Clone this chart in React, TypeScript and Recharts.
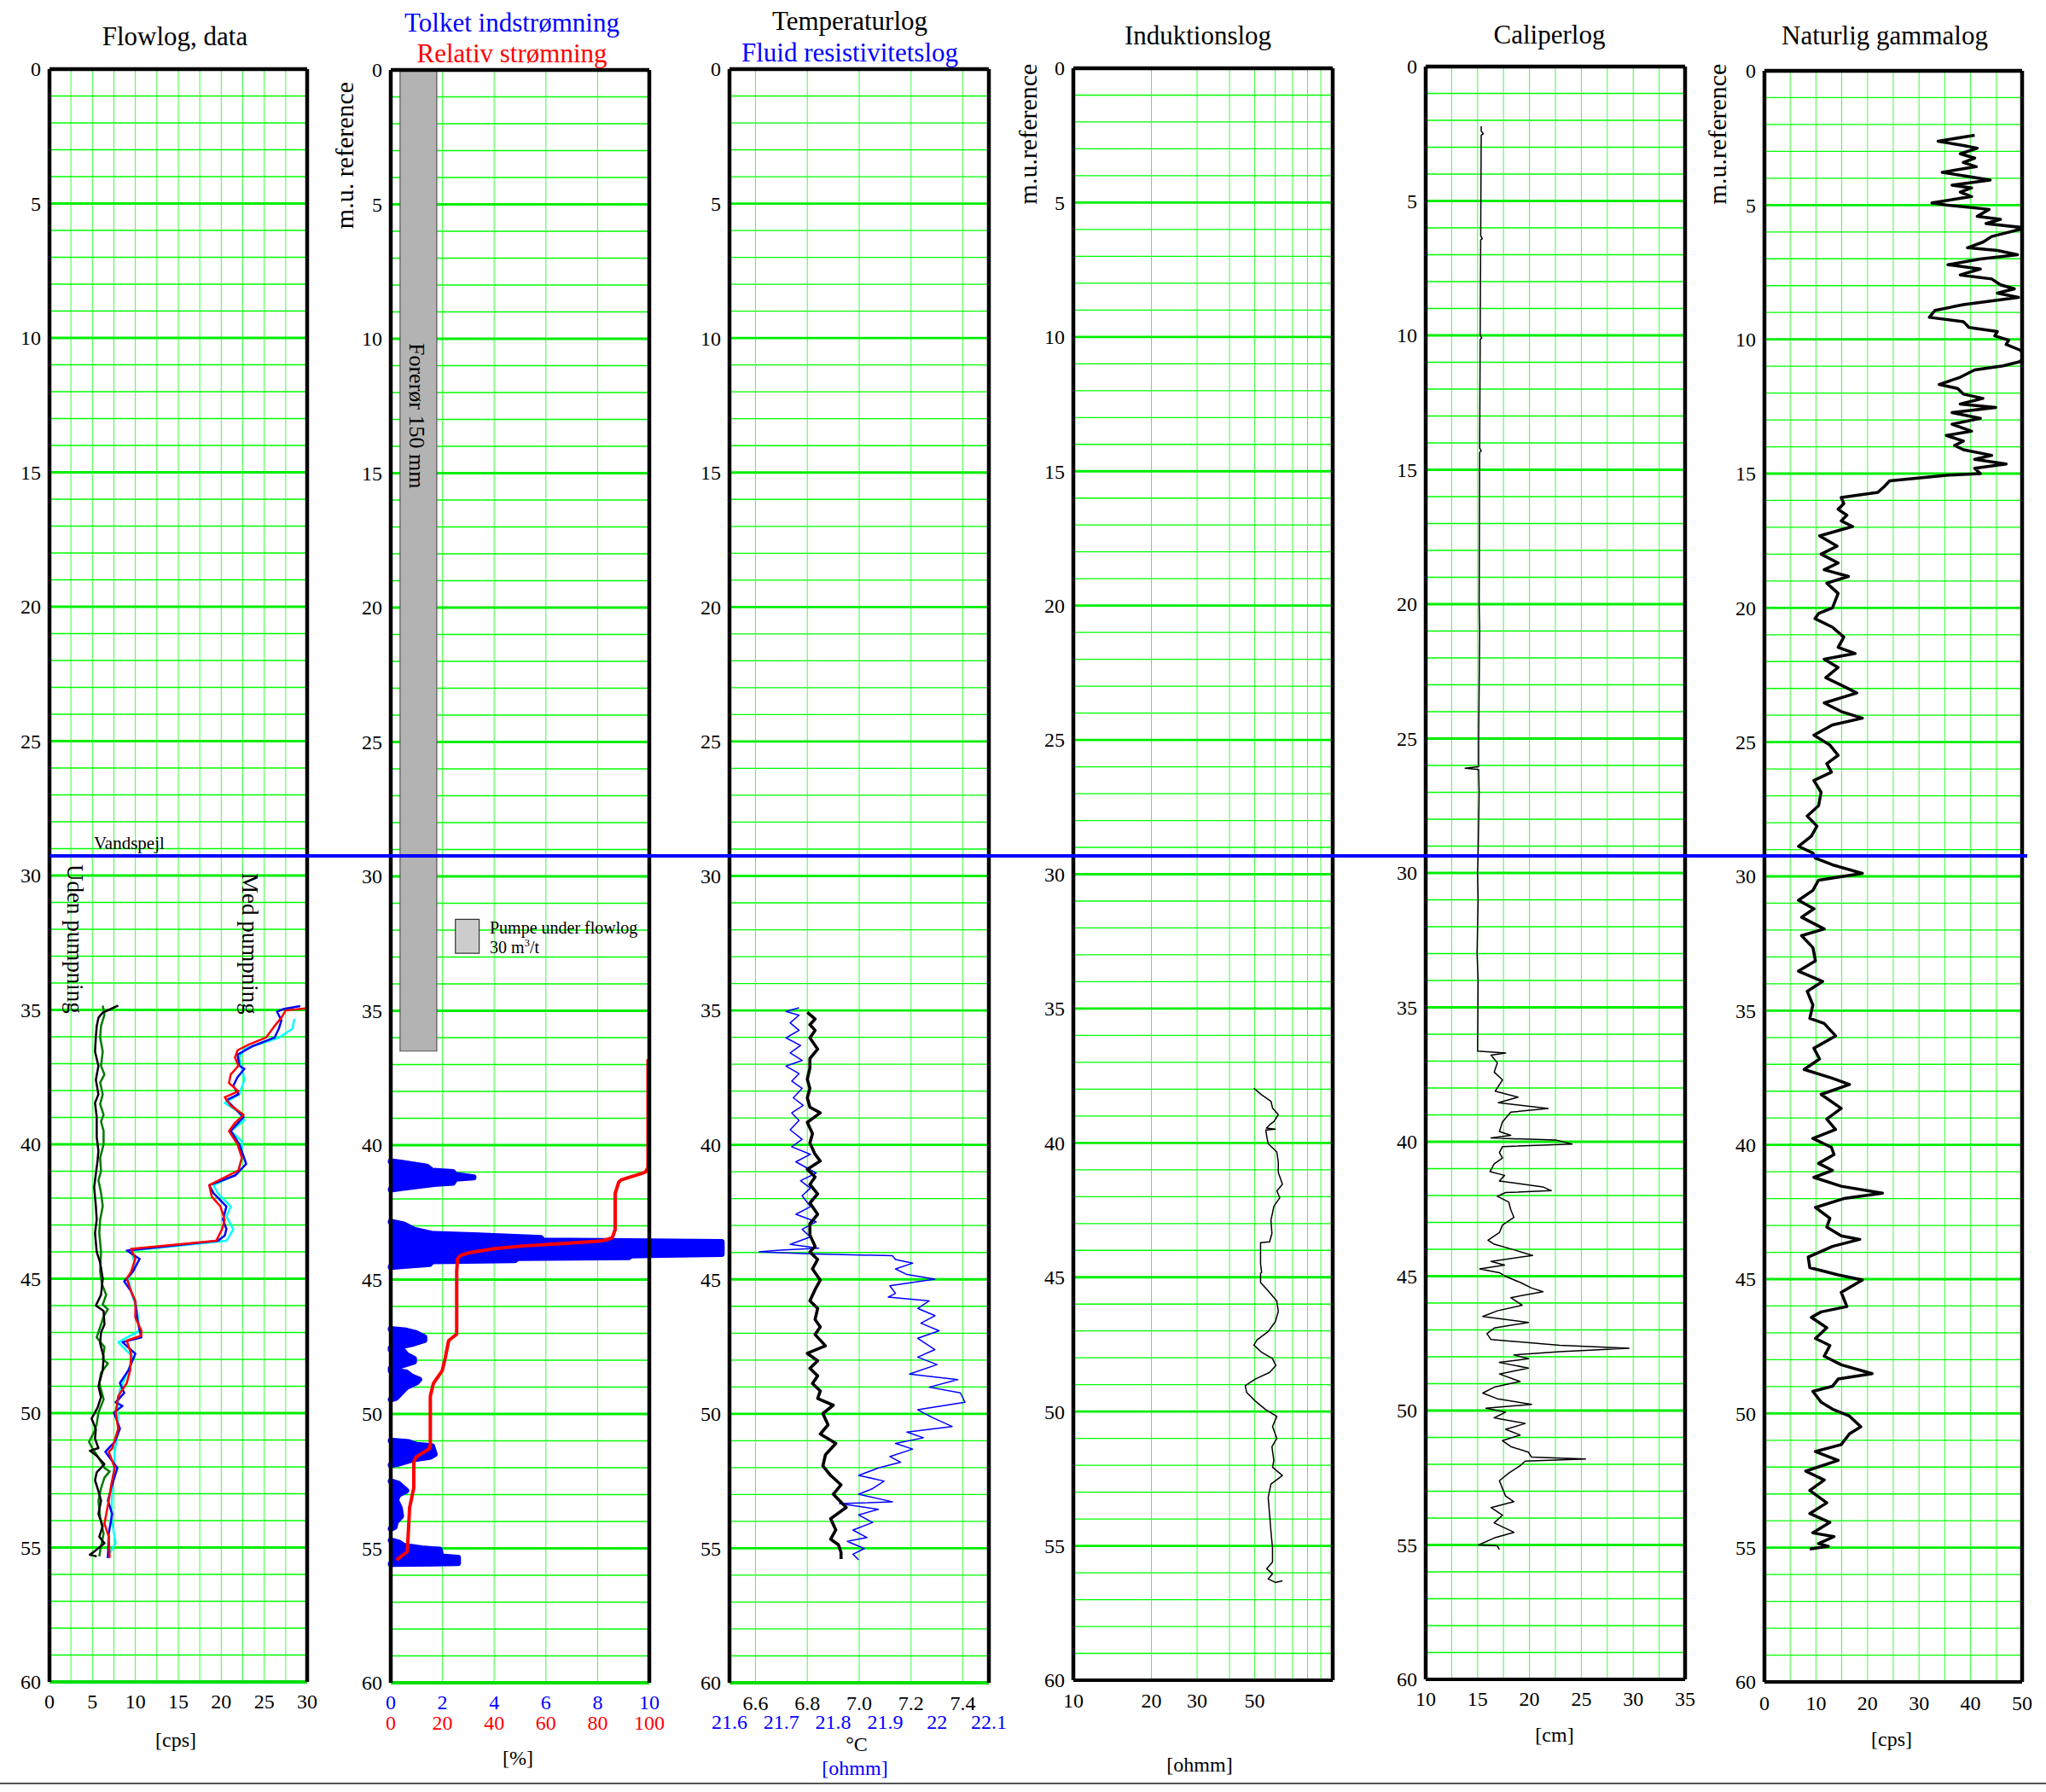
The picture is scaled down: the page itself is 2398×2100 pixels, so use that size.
import React from 'react';
import { ComposedChart, Line, Area, XAxis, YAxis, CartesianGrid, ReferenceLine, ReferenceArea } from 'recharts';

const PAGE_W = 2398;
const PAGE_H = 2100;
const SERIF = '"Liberation Serif", "Times New Roman", Times, serif';

type Pair = [number, number | null];

// ---------- depth axis ----------
const depthTicks = Array.from({ length: 61 }, (_, i) => i);
const depthMajor = [5, 10, 15, 20, 25, 30, 35, 40, 45, 50, 55];
const waterLevel = 29.27;

// ---------- Flowlog, data ----------
const flowTicks = [0, 2.5, 5, 7.5, 10, 12.5, 15, 17.5, 20, 22.5, 25, 27.5, 30];
const flowUdenBlack: Pair[] = [
  [34.84, 8.0], [35.0, 6.9], [35.1, 6.2], [35.29, 5.7], [35.6, 5.5], [36.0, 5.4], [36.55, 5.3], [37.08, 5.7],
  [37.6, 5.4], [38.14, 5.7], [38.46, 5.3], [38.98, 5.5], [39.4, 5.5], [39.73, 5.5], [40.24, 5.7], [40.6, 5.6],
  [41.1, 5.4], [41.6, 5.2], [42.3, 5.4], [42.8, 5.5], [43.3, 5.3], [44.0, 5.5], [44.4, 5.9], [45.0, 6.2],
  [45.6, 6.0], [46.0, 5.4], [46.2, 6.3], [46.7, 6.4], [47.0, 6.0], [47.4, 5.9], [47.9, 6.3], [48.4, 6.2],
  [49.0, 5.7], [49.4, 6.0], [49.8, 5.6], [50.2, 4.9], [50.6, 5.4], [50.95, 5.3], [51.3, 5.7], [51.4, 4.7],
  [51.56, 5.4], [51.9, 6.4], [52.2, 5.5], [52.5, 5.3], [52.9, 5.7], [53.26, 6.0], [53.75, 5.7], [54.2, 6.2],
  [54.6, 5.8], [54.84, 6.4], [55.1, 5.4], [55.27, 4.7], [55.33, 5.5],
];
const flowUdenGreen: Pair[] = [
  [34.84, 6.2], [35.18, 6.4], [35.6, 6.0], [36.03, 5.9], [36.55, 6.2], [37.08, 6.0], [37.4, 6.4], [37.7, 5.9],
  [38.14, 6.2], [38.5, 5.9], [38.9, 6.3], [39.15, 6.0], [39.5, 6.3], [40.0, 6.3], [40.5, 5.9], [41.0, 6.0],
  [41.34, 5.7], [41.8, 6.0], [42.3, 6.2], [42.8, 5.9], [43.3, 5.8], [44.0, 6.0], [44.74, 5.9], [45.2, 6.1],
  [45.6, 6.6], [45.96, 6.2], [46.14, 6.8], [46.4, 6.3], [46.7, 6.0], [47.18, 5.5], [47.54, 6.4], [48.0, 6.2],
  [48.15, 6.8], [48.5, 6.0], [48.88, 5.8], [49.49, 6.3], [49.98, 5.7], [50.4, 5.5], [50.7, 5.2], [51.07, 4.6],
  [51.31, 5.0], [51.7, 5.8], [52.04, 6.4], [52.17, 7.0], [52.4, 6.4], [52.8, 6.0], [53.26, 5.7], [53.87, 5.9],
  [54.2, 6.1], [54.48, 6.3], [54.96, 6.0], [55.33, 5.8],
];
const flowMedBlue: Pair[] = [
  [34.86, 29.2], [34.97, 27.2], [35.07, 26.5], [35.39, 27.0], [35.7, 26.7], [36.03, 26.2], [36.34, 23.7], [36.66, 21.9],
  [37.08, 22.1], [37.19, 22.7], [37.5, 21.9], [37.82, 21.4], [38.14, 22.0], [38.35, 20.6], [38.67, 21.6], [38.98, 22.6],
  [39.5, 21.1], [40.0, 22.1], [40.73, 22.9], [41.16, 21.6], [41.52, 18.6], [41.82, 19.1], [42.31, 20.6], [42.8, 20.2],
  [43.16, 20.6], [43.4, 20.4], [43.59, 19.6], [43.95, 9.0], [44.26, 10.5], [44.74, 9.7], [45.1, 8.7], [45.47, 9.5],
  [45.84, 10.0], [46.45, 10.2], [46.93, 10.5], [47.18, 10.7], [47.36, 8.5], [47.79, 10.0], [48.4, 9.2], [48.88, 8.2],
  [49.25, 8.7], [49.6, 7.7], [49.73, 8.5], [49.98, 7.5], [50.58, 8.2], [51.07, 7.6], [51.44, 6.5], [52.04, 7.9],
  [52.77, 7.2], [53.26, 6.8], [53.75, 7.3], [54.48, 6.9], [55.39, 6.8],
];
const flowMedRed: Pair[] = [
  [34.94, 30.0], [35.02, 27.5], [35.29, 27.0], [35.6, 26.2], [36.03, 25.2], [36.29, 23.2], [36.5, 21.9], [36.77, 21.6],
  [37.08, 22.0], [37.4, 21.1], [37.72, 20.9], [38.03, 22.0], [38.25, 20.4], [38.56, 21.1], [38.9, 22.6], [39.2, 21.6],
  [39.51, 20.9], [40.0, 21.9], [40.5, 22.4], [40.97, 22.0], [41.52, 18.6], [41.95, 18.9], [42.31, 19.9], [42.8, 20.4],
  [43.16, 20.1], [43.59, 19.4], [43.89, 9.5], [44.26, 10.0], [44.74, 9.5], [44.99, 9.0], [45.47, 9.5], [45.84, 10.0],
  [46.45, 10.0], [46.93, 10.7], [47.12, 10.7], [47.3, 9.0], [47.79, 9.5], [48.4, 9.4], [48.88, 9.0], [49.37, 8.0],
  [49.98, 7.7], [50.58, 8.0], [51.31, 7.3], [51.44, 6.9], [52.04, 7.6], [52.65, 7.2], [53.26, 6.9], [54.11, 6.4],
  [54.6, 6.9], [55.39, 7.0],
];
const flowMedCyan: Pair[] = [
  [35.34, 28.5], [35.7, 28.3], [36.03, 26.7], [36.24, 24.7], [36.45, 22.7], [36.77, 22.1], [37.6, 22.7], [38.14, 22.1],
  [38.46, 20.4], [38.77, 21.9], [39.1, 22.7], [39.51, 21.1], [39.88, 22.4], [40.5, 22.4], [41.1, 21.9], [41.52, 19.1],
  [41.82, 19.6], [42.31, 21.1], [42.68, 20.6], [43.16, 21.4], [43.59, 20.6], [43.95, 9.5], [44.5, 10.0], [44.99, 9.2],
  [45.47, 9.5], [46.2, 10.2], [46.93, 10.5], [47.36, 8.0], [47.91, 9.7], [48.4, 9.2], [49.12, 8.2], [49.85, 7.9],
  [50.58, 8.0], [51.44, 7.6], [52.04, 7.5], [52.77, 7.3], [53.87, 7.2], [54.84, 7.7], [55.39, 6.7],
];

// ---------- Tolket indstrømning / Relativ strømning ----------
const inflowTicks = [0, 2, 4, 6, 8, 10];
const relTickLabels = ['0', '20', '40', '60', '80', '100'];
const casing = { x1: 0.36, x2: 1.78, top: 0, bottom: 36.5 };
const pumpBox = { x1: 2.5, x2: 3.42, top: 31.6, bottom: 32.86 };
const inflowBlobs: Pair[] = [
  [40.6, 0], [40.65, 0.4], [40.8, 1.4], [40.95, 1.6], [41.0, 2.4], [41.1, 2.5], [41.2, 3.2], [41.25, 2.5],
  [41.4, 2.4], [41.45, 1.6], [41.6, 0.4], [41.65, 0], [41.7, null],
  [42.85, 0], [42.95, 0.5], [43.15, 0.9], [43.3, 1.6], [43.35, 3.2], [43.45, 5.8], [43.55, 5.9], [43.6, 12.8],
  [44.05, 12.8], [44.1, 9.3], [44.17, 9.2], [44.2, 4.9], [44.28, 4.8], [44.32, 1.6], [44.42, 1.5], [44.5, 0.4],
  [44.53, 0], [44.6, null],
  [46.84, 0], [46.9, 0.6], [47.0, 1.0], [47.15, 1.3], [47.25, 1.3], [47.4, 0.8], [47.5, 0.3], [47.55, 0], [47.57, null],
  [47.6, 0], [47.67, 0.5], [47.8, 0.6], [47.95, 0.9], [48.05, 0.9], [48.2, 0.4], [48.31, 0], [48.34, null],
  [48.38, 0], [48.45, 0.6], [48.6, 0.8], [48.72, 1.1], [48.82, 1.0], [49.0, 0.6], [49.2, 0.4], [49.4, 0.2], [49.46, 0], [49.5, null],
  [50.99, 0], [51.05, 0.7], [51.15, 1.0], [51.2, 1.6], [51.5, 1.7], [51.6, 1.5], [51.7, 0.8], [51.85, 0.3], [51.9, 0], [51.95, null],
  [52.5, 0], [52.6, 0.3], [52.85, 0.6], [53.0, 0.3], [53.2, 0.2], [53.5, 0.35], [53.8, 0.4], [54.0, 0.2], [54.2, 0.15], [54.27, 0], [54.3, null],
  [54.7, 0], [54.78, 0.3], [54.9, 0.5], [55.0, 1.2], [55.05, 1.9], [55.3, 1.95], [55.35, 2.6], [55.55, 2.6], [55.58, 0],
];
const relativeFlow: Pair[] = [
  [36.8, 99.5], [40.83, 99.5], [41.0, 98.5], [41.07, 96.6], [41.2, 92.0], [41.3, 89.0], [41.37, 88.2], [41.8, 86.8],
  [43.14, 86.8], [43.44, 85.7], [43.5, 84.0], [43.56, 81.5], [43.65, 68.0], [43.75, 51.1], [43.85, 40.0], [43.99, 30.9],
  [44.1, 27.0], [44.23, 25.8], [44.72, 25.5], [47.03, 25.5], [47.27, 22.4], [47.9, 21.1], [48.39, 19.9], [48.86, 16.5],
  [49.34, 15.3], [51.17, 15.3], [51.3, 14.8], [51.6, 9.8], [51.78, 8.9], [52.75, 8.9], [53.48, 7.3], [54.2, 6.9],
  [55.12, 6.4], [55.43, 2.2],
];

// ---------- Temperaturlog / Fluid resistivitetslog ----------
const tempTicks = [6.6, 6.8, 7.0, 7.2, 7.4];
const resistTicks = [21.6, 21.7, 21.8, 21.9, 22.0, 22.1];
const resistTickLabels = ['21.6', '21.7', '21.8', '21.9', '22', '22.1'];
const temperature: Pair[] = [
  [35.07, 6.80], [35.32, 6.83], [35.53, 6.81], [35.74, 6.83], [36.02, 6.81], [36.44, 6.84], [36.79, 6.81], [37.14, 6.81],
  [37.56, 6.80], [37.9, 6.81], [38.25, 6.80], [38.6, 6.81], [38.81, 6.85], [39.16, 6.80], [39.58, 6.82], [39.93, 6.81],
  [40.35, 6.83], [40.6, 6.85], [40.91, 6.80], [41.19, 6.83], [41.47, 6.81], [41.82, 6.84], [42.16, 6.81], [42.58, 6.84],
  [42.93, 6.81], [43.35, 6.81], [43.77, 6.83], [43.98, 6.81], [44.26, 6.84], [44.61, 6.82], [45.03, 6.85], [45.38, 6.83],
  [45.8, 6.81], [46.08, 6.84], [46.49, 6.83], [46.77, 6.85], [47.05, 6.83], [47.47, 6.87], [47.75, 6.80], [48.03, 6.84],
  [48.31, 6.81], [48.59, 6.84], [48.87, 6.82], [49.15, 6.85], [49.43, 6.84], [49.68, 6.90], [49.99, 6.86], [50.41, 6.88],
  [50.75, 6.85], [51.1, 6.91], [51.52, 6.87], [51.94, 6.86], [52.29, 6.89], [52.64, 6.93], [52.99, 6.90], [53.48, 6.95],
  [53.9, 6.89], [54.32, 6.91], [54.66, 6.89], [54.87, 6.92], [55.15, 6.93], [55.4, 6.93],
];
const resistivity: Pair[] = [
  [34.9, 21.734], [35.04, 21.709], [35.18, 21.734], [35.46, 21.717], [35.74, 21.734], [36.02, 21.709], [36.3, 21.737],
  [36.58, 21.717], [36.86, 21.74], [37.07, 21.709], [37.35, 21.734], [37.63, 21.72], [37.9, 21.74], [38.25, 21.723],
  [38.53, 21.742], [38.81, 21.72], [39.09, 21.734], [39.44, 21.717], [39.79, 21.74], [40.07, 21.72], [40.35, 21.756],
  [40.63, 21.728], [41.05, 21.767], [41.33, 21.737], [41.61, 21.756], [41.89, 21.74], [42.3, 21.756], [42.58, 21.728],
  [42.86, 21.767], [43.14, 21.74], [43.42, 21.756], [43.7, 21.717], [43.84, 21.772], [43.91, 21.698], [43.98, 21.657],
  [44.05, 21.75], [44.12, 21.914], [44.26, 21.92], [44.4, 21.953], [44.61, 21.92], [44.82, 21.942], [44.99, 21.996],
  [45.24, 21.909], [45.52, 21.92], [45.66, 21.906], [45.8, 21.985], [46.08, 21.963], [46.35, 21.996], [46.63, 21.969],
  [46.91, 22.004], [47.19, 21.963], [47.61, 21.996], [47.89, 21.963], [48.17, 22.0], [48.52, 21.947], [48.73, 22.04],
  [49.01, 21.985], [49.22, 22.045], [49.57, 22.054], [49.85, 21.963], [50.13, 21.99], [50.47, 22.029], [50.68, 21.942],
  [50.89, 21.974], [51.1, 21.92], [51.31, 21.953], [51.59, 21.909], [51.8, 21.93], [52.01, 21.887], [52.29, 21.849],
  [52.5, 21.898], [52.78, 21.876], [52.99, 21.849], [53.27, 21.914], [53.34, 21.812], [53.55, 21.887], [53.76, 21.849],
  [54.04, 21.876], [54.32, 21.838], [54.6, 21.865], [54.74, 21.827], [55.01, 21.86], [55.22, 21.838], [55.43, 21.849],
];

// ---------- Induktionslog ----------
const indTicks = [10, 20, 30, 40, 50, 60, 70, 80, 90, 100];
const indLabelValues = [10, 20, 30, 50];
const induction: Pair[] = [
  [37.97, 49.7], [38.2, 53.0], [38.45, 57.8], [38.7, 58.6], [38.95, 61.7], [39.21, 59.3], [39.3, 57.5], [39.45, 55.5],
  [39.49, 60.1], [39.52, 55.2], [39.77, 55.7], [40.03, 56.4], [40.34, 60.9], [40.72, 61.7], [41.1, 61.7], [41.54, 64.0],
  [41.79, 60.9], [42.04, 62.5], [42.36, 59.3], [42.61, 58.6], [42.86, 57.8], [43.37, 58.3], [43.68, 57.1], [43.71, 52.7],
  [44.5, 52.7], [44.82, 53.2], [44.85, 52.7], [45.2, 52.7], [45.51, 56.4], [45.89, 60.9], [46.27, 61.7], [46.65, 60.1],
  [47.02, 56.4], [47.34, 51.0], [47.53, 49.7], [47.78, 53.0], [48.03, 58.6], [48.29, 60.4], [48.54, 57.1], [48.79, 50.3],
  [49.04, 46.0], [49.29, 46.6], [49.61, 50.3], [49.92, 55.0], [50.18, 60.9], [50.56, 58.6], [51.0, 60.9], [51.31, 58.3],
  [51.82, 59.3], [52.07, 58.6], [52.38, 64.0], [52.7, 57.8], [53.2, 56.4], [53.83, 57.1], [54.46, 57.8], [55.09, 58.6],
  [55.6, 58.6], [55.85, 55.7], [56.04, 58.6], [56.23, 56.4], [56.36, 60.1], [56.3, 64.0],
];

// ---------- Caliperlog ----------
const calTicks = [10, 12.5, 15, 17.5, 20, 22.5, 25, 27.5, 30, 32.5, 35];
const caliper: Pair[] = [
  [2.22, 15.35], [2.4, 15.35], [2.5, 15.55], [2.55, 15.35], [6.3, 15.3], [6.4, 15.45], [6.45, 15.3], [10.0, 15.25],
  [10.1, 15.4], [10.15, 15.25], [14.2, 15.2], [14.3, 15.35], [14.35, 15.2], [20.0, 15.15], [21.0, 15.2], [25.0, 15.1],
  [26.05, 15.1], [26.1, 13.8], [26.15, 15.1], [27.0, 15.15], [29.3, 15.05], [30.0, 15.0], [31.0, 15.05], [33.0, 14.95],
  [34.0, 15.05], [36.63, 15.0],
  [36.7, 17.7], [36.78, 16.3], [37.06, 16.9], [37.41, 16.6], [37.7, 17.4], [38.12, 16.7], [38.34, 18.9], [38.55, 17.0],
  [38.76, 21.8], [38.9, 18.2], [39.26, 17.4], [39.62, 17.1], [39.76, 18.2], [39.86, 16.3], [39.94, 22.6], [40.09, 24.1],
  [40.18, 17.4], [40.4, 17.1], [40.61, 17.4], [40.82, 16.6], [41.11, 16.2], [41.25, 17.6], [41.46, 17.1], [41.68, 21.3],
  [41.82, 22.1], [41.89, 17.7], [42.03, 16.9], [42.24, 18.0], [42.53, 18.2], [42.81, 18.5], [43.1, 17.4], [43.38, 17.1],
  [43.66, 16.0], [43.81, 16.6], [44.02, 18.5], [44.23, 20.3], [44.45, 16.3], [44.59, 17.6], [44.73, 15.2], [44.87, 17.1],
  [45.01, 17.7], [45.23, 19.1], [45.44, 20.2], [45.58, 21.3], [45.8, 18.2], [46.08, 19.3], [46.29, 16.9], [46.5, 15.5],
  [46.72, 19.9], [46.93, 16.6], [47.14, 15.9], [47.36, 16.3], [47.57, 22.9], [47.68, 29.6], [47.81, 22.9], [47.93, 18.5],
  [48.07, 19.9], [48.21, 17.1], [48.42, 19.9], [48.64, 17.1], [48.92, 19.1], [49.13, 16.6], [49.35, 15.5], [49.56, 16.9],
  [49.77, 20.2], [49.91, 15.8], [50.06, 17.7], [50.27, 16.6], [50.48, 19.6], [50.7, 17.7], [50.91, 19.1], [51.12, 17.4],
  [51.34, 18.2], [51.55, 19.9], [51.73, 20.2], [51.8, 25.4], [51.88, 19.6], [52.05, 19.1], [52.33, 18.0], [52.61, 17.1],
  [52.9, 17.4], [53.18, 17.7], [53.39, 18.5], [53.61, 16.3], [53.89, 17.4], [54.18, 16.6], [54.53, 18.5], [54.74, 16.6],
  [55.0, 15.1], [55.03, 16.9], [55.17, 17.1],
];

// ---------- Naturlig gammalog ----------
const gamTicks = [0, 5, 10, 15, 20, 25, 30, 35, 40, 45, 50];
const gamma: Pair[] = [
  [2.40, 40.8], [2.62, 33.7], [2.78, 38.6], [2.88, 41.3], [3.09, 38.0], [3.25, 40.8], [3.41, 38.6], [3.57, 41.1],
  [3.78, 34.5], [3.94, 39.7], [4.07, 43.8], [4.26, 36.4], [4.36, 40.2], [4.52, 38.0], [4.68, 40.2], [4.92, 32.5],
  [5.0, 35.3], [5.16, 43.6], [5.42, 41.3], [5.53, 45.8], [5.69, 43.0], [5.85, 50.7], [6.01, 47.4], [6.17, 44.1],
  [6.38, 42.4], [6.59, 39.4], [6.69, 45.2], [6.85, 49.1], [7.01, 41.9], [7.22, 35.6], [7.38, 41.9], [7.6, 38.0],
  [7.75, 44.1], [7.97, 45.8], [8.12, 48.5], [8.28, 45.2], [8.44, 49.3], [8.71, 38.6], [8.92, 33.1], [9.18, 32.0],
  [9.34, 38.6], [9.56, 39.7], [9.71, 45.2], [9.87, 44.7], [10.03, 47.4], [10.19, 46.9], [10.4, 49.6], [10.61, 50.7],
  [10.83, 49.6], [10.99, 46.3], [11.14, 40.8], [11.41, 38.0], [11.68, 33.9], [11.83, 37.5], [12.04, 38.6], [12.2, 42.4],
  [12.41, 38.0], [12.54, 44.9], [12.73, 36.4], [12.94, 41.9], [13.16, 36.4], [13.42, 40.2], [13.58, 35.3], [13.79, 38.6],
  [13.95, 36.9], [14.11, 38.6], [14.32, 44.1], [14.47, 40.8], [14.64, 46.9], [14.8, 40.8], [15.0, 41.9], [15.06, 35.3],
  [15.27, 24.3], [15.49, 23.2], [15.7, 22.0], [15.89, 14.9], [16.12, 15.4], [16.33, 14.3], [16.55, 16.0], [16.76, 14.9],
  [16.97, 17.1], [17.32, 10.7], [17.7, 14.1], [18.0, 11.0], [18.33, 14.3], [18.58, 11.6], [18.83, 16.3], [19.08, 12.1],
  [19.46, 14.3], [20.0, 13.2], [20.21, 10.5], [20.4, 9.8], [20.72, 13.2], [21.09, 15.4], [21.47, 14.3], [21.7, 17.6],
  [21.91, 11.6], [22.22, 14.3], [22.6, 11.9], [22.98, 16.0], [23.17, 17.9], [23.54, 11.6], [23.86, 14.9], [24.11, 19.0],
  [24.36, 13.2], [24.74, 9.6], [25.11, 12.7], [25.49, 14.3], [25.8, 12.1], [26.12, 13.0], [26.43, 9.6], [26.87, 11.0],
  [27.37, 10.5], [27.75, 8.3], [28.13, 10.2], [28.5, 9.1], [28.88, 6.6], [29.13, 9.4], [29.32, 9.9], [29.57, 13.2],
  [29.89, 19.0], [30.14, 10.5], [30.52, 9.4], [30.89, 6.6], [31.21, 9.6], [31.52, 7.2], [31.96, 11.6], [32.21, 7.2],
  [32.65, 9.4], [33.15, 9.9], [33.53, 6.6], [33.91, 11.3], [34.28, 8.3], [34.79, 9.4], [35.29, 8.8], [35.48, 11.6],
  [35.94, 13.8], [36.4, 9.6], [36.8, 10.7], [37.19, 7.7], [37.52, 13.2], [37.75, 16.5], [38.12, 11.0], [38.64, 14.9],
  [39.04, 12.1], [39.43, 13.8], [39.76, 9.4], [40.09, 13.0], [40.36, 13.5], [40.69, 10.5], [40.95, 13.2], [41.21, 9.6],
  [41.54, 14.9], [41.8, 22.9], [42.0, 15.4], [42.33, 9.9], [42.73, 12.7], [43.06, 12.1], [43.39, 14.9], [43.52, 18.5],
  [43.78, 13.2], [44.18, 8.5], [44.57, 8.8], [44.84, 14.3], [45.03, 19.0], [45.49, 14.9], [46.02, 16.0], [46.22, 11.0],
  [46.42, 9.1], [46.81, 12.1], [47.21, 9.9], [47.47, 12.7], [47.87, 11.6], [48.19, 14.9], [48.52, 20.9], [48.72, 14.3],
  [48.99, 13.2], [49.18, 9.4], [49.58, 11.0], [49.84, 13.2], [50.1, 16.5], [50.5, 18.7], [50.76, 16.5], [51.16, 14.9],
  [51.42, 9.9], [51.75, 14.3], [52.15, 8.0], [52.48, 11.6], [52.87, 8.8], [53.33, 12.1], [53.73, 8.8], [54.06, 12.7],
  [54.45, 9.4], [54.59, 13.5], [54.85, 10.5], [54.95, 12.4], [55.05, 8.8],
];

// ---------- layout ----------
const frames = {
  flow: { left: 58, right: 360, top: 81, bottom: 1971 },
  inflow: { left: 458, right: 761, top: 82, bottom: 1972 },
  temp: { left: 855, right: 1159, top: 81, bottom: 1972 },
  ind: { left: 1258, right: 1562, top: 80, bottom: 1969 },
  cal: { left: 1671, right: 1975, top: 78, bottom: 1968 },
  gam: { left: 2068, right: 2370, top: 83, bottom: 1971 },
  water: { left: 58, right: 2376, top: 81, bottom: 1971 },
};

type Frame = { left: number; right: number; top: number; bottom: number };
// axes are 1px thick so that recharts renders them; margins compensate
const marginOf = (f: Frame, yAxisW: number, xAxesH: number) => ({
  top: f.top,
  bottom: PAGE_H - f.bottom - xAxesH,
  left: f.left - yAxisW,
  right: PAGE_W - f.right,
});
const rows = (pairs: Pair[]) => pairs.map(([d, v]) => ({ d, v }));
const abs: React.CSSProperties = { position: 'absolute', left: 0, top: 0 };

const depthTick = (p: any) => {
  const v = p.payload.value;
  if (Math.round(v) % 5 !== 0) return <g />;
  return (
    <text x={p.x - 10} y={p.y} dy="0.35em" textAnchor="end" fontSize={24} fontFamily={SERIF} fill="#000">
      {v}
    </text>
  );
};

const makeTick = (dy: number, label: (v: number, i: number) => string | null, color = '#000') => (p: any) => {
  const s = label(p.payload.value, p.index);
  if (s === null) return <g />;
  return (
    <text x={p.x} y={p.y + dy} textAnchor="middle" fontSize={24} fontFamily={SERIF} fill={color}>
      {s}
    </text>
  );
};

const depthAxis = () => (
  <YAxis
    type="number"
    dataKey="d"
    domain={[0, 60]}
    ticks={depthTicks}
    interval={0}
    width={1}
    tickSize={0}
    tickMargin={0}
    axisLine={false}
    tickLine={false}
    allowDataOverflow
    tick={depthTick}
  />
);

const gridParts = (k: string) => [
  <CartesianGrid key={k + 'gh'} vertical={false} stroke="#00ff00" strokeWidth={1.3} />,
  <CartesianGrid key={k + 'gv'} horizontal={false} stroke="#3cff3c" strokeWidth={1} />,
  ...depthMajor.map((d) => (
    <ReferenceLine key={k + 'maj' + d} y={d} stroke="#00ee00" strokeWidth={2.8} ifOverflow="visible" zIndex={-90} />
  )),
];

const borderParts = (k: string, xMin: number, xMax: number, bottomColor: string) => [
  <ReferenceLine key={k + 'bb'} y={60} stroke={bottomColor} strokeWidth={4} ifOverflow="visible" zIndex={900} />,
  <ReferenceLine key={k + 'bt'} y={0} stroke="#000" strokeWidth={4.5} ifOverflow="visible" zIndex={900} />,
  <ReferenceLine key={k + 'bl'} x={xMin} stroke="#000" strokeWidth={4.5} ifOverflow="visible" zIndex={900} />,
  <ReferenceLine key={k + 'br'} x={xMax} stroke="#000" strokeWidth={4.5} ifOverflow="visible" zIndex={900} />,
];

const lineProps = { dot: false, activeDot: false, isAnimationActive: false, type: 'linear' as const, strokeLinejoin: 'round' as const };
const bottomAxisBase = {
  type: 'number' as const,
  interval: 0 as const,
  height: 1,
  tickSize: 0,
  tickMargin: 0,
  axisLine: false,
  tickLine: false,
  allowDataOverflow: true,
};

function FlowPanel() {
  const f = frames.flow;
  return (
    <ComposedChart width={PAGE_W} height={PAGE_H} layout="vertical" margin={marginOf(f, 1, 1)}>
      <XAxis
        {...bottomAxisBase}
        domain={[0, 30]}
        ticks={flowTicks}
        tick={makeTick(31, (v) => (v % 5 === 0 ? String(v) : null))}
      />
      {depthAxis()}
      {gridParts('f')}
      <Line {...lineProps} data={rows(flowUdenGreen)} dataKey="v" stroke="#007a00" strokeWidth={2.5} />
      <Line {...lineProps} data={rows(flowUdenBlack)} dataKey="v" stroke="#000000" strokeWidth={2.5} />
      <Line {...lineProps} data={rows(flowMedCyan)} dataKey="v" stroke="#00ffff" strokeWidth={2.5} />
      <Line {...lineProps} data={rows(flowMedBlue)} dataKey="v" stroke="#0000ff" strokeWidth={2.5} />
      <Line {...lineProps} data={rows(flowMedRed)} dataKey="v" stroke="#ff0000" strokeWidth={2.5} />
      {borderParts('f', 0, 30, '#00dd00')}
    </ComposedChart>
  );
}

function InflowPanel() {
  const f = frames.inflow;
  return (
    <ComposedChart width={PAGE_W} height={PAGE_H} layout="vertical" margin={marginOf(f, 1, 1)}>
      <XAxis
        {...bottomAxisBase}
        domain={[0, 10]}
        ticks={inflowTicks}
        tick={(p: any) => (
          <g>
            <text x={p.x} y={p.y + 31} textAnchor="middle" fontSize={24} fontFamily={SERIF} fill="#0000ff">
              {p.payload.value}
            </text>
            <text x={p.x} y={p.y + 55} textAnchor="middle" fontSize={24} fontFamily={SERIF} fill="#ff0000">
              {relTickLabels[p.index]}
            </text>
          </g>
        )}
      />
      <XAxis xAxisId="rel" type="number" domain={[0, 100]} hide height={0} allowDataOverflow />
      {depthAxis()}
      {gridParts('i')}
      <ReferenceArea
        x1={casing.x1}
        x2={casing.x2}
        y1={casing.top}
        y2={casing.bottom}
        fill="#b3b3b3"
        fillOpacity={1}
        stroke="#555"
        strokeWidth={1.2}
        ifOverflow="visible"
        zIndex={50}
      />
      <ReferenceArea
        x1={pumpBox.x1}
        x2={pumpBox.x2}
        y1={pumpBox.top}
        y2={pumpBox.bottom}
        fill="#cccccc"
        fillOpacity={1}
        stroke="#333"
        strokeWidth={1.2}
        ifOverflow="visible"
        zIndex={50}
      />
      <Area
        className="inflow-blob"
        data={rows(inflowBlobs)}
        dataKey="v"
        type="linear"
        stroke="#0000ff"
        strokeWidth={7}
        strokeLinejoin="round"
        strokeLinecap="round"
        fill="#0000ff"
        fillOpacity={1}
        dot={false}
        activeDot={false}
        isAnimationActive={false}
        zIndex={100}
      />
      <Line {...lineProps} xAxisId="rel" data={rows(relativeFlow)} dataKey="v" stroke="#ff0000" strokeWidth={4} zIndex={400} />
      {borderParts('i', 0, 10, '#00dd00')}
    </ComposedChart>
  );
}

function TempPanel() {
  const f = frames.temp;
  return (
    <ComposedChart width={PAGE_W} height={PAGE_H} layout="vertical" margin={marginOf(f, 1, 2)}>
      <XAxis
        {...bottomAxisBase}
        domain={[6.5, 7.5]}
        ticks={tempTicks}
        tick={makeTick(32, (v) => v.toFixed(1))}
      />
      <XAxis
        {...bottomAxisBase}
        xAxisId="res"
        domain={[21.6, 22.1]}
        ticks={resistTicks}
        tick={makeTick(53, (_v, i) => resistTickLabels[i], '#0000ff')}
      />
      {depthAxis()}
      {gridParts('t')}
      <Line {...lineProps} xAxisId="res" data={rows(resistivity)} dataKey="v" stroke="#0000ff" strokeWidth={1.5} />
      <Line {...lineProps} data={rows(temperature)} dataKey="v" stroke="#000000" strokeWidth={3.6} />
      {borderParts('t', 6.5, 7.5, '#00dd00')}
    </ComposedChart>
  );
}

function IndPanel() {
  const f = frames.ind;
  return (
    <ComposedChart width={PAGE_W} height={PAGE_H} layout="vertical" margin={marginOf(f, 1, 1)}>
      <XAxis
        {...bottomAxisBase}
        scale="log"
        domain={[10, 100]}
        ticks={indTicks}
        tick={makeTick(32, (v) => (indLabelValues.includes(v) ? String(v) : null))}
      />
      {depthAxis()}
      {gridParts('n')}
      <Line {...lineProps} data={rows(induction)} dataKey="v" stroke="#000000" strokeWidth={1.5} />
      {borderParts('n', 10, 100, '#000')}
    </ComposedChart>
  );
}

function CalPanel() {
  const f = frames.cal;
  return (
    <ComposedChart width={PAGE_W} height={PAGE_H} layout="vertical" margin={marginOf(f, 1, 1)}>
      <XAxis
        {...bottomAxisBase}
        domain={[10, 35]}
        ticks={calTicks}
        tick={makeTick(31, (v) => (v % 5 === 0 ? String(v) : null))}
      />
      {depthAxis()}
      {gridParts('c')}
      <Line {...lineProps} data={rows(caliper)} dataKey="v" stroke="#000000" strokeWidth={1.5} />
      {borderParts('c', 10, 35, '#000')}
    </ComposedChart>
  );
}

function GamPanel() {
  const f = frames.gam;
  return (
    <ComposedChart width={PAGE_W} height={PAGE_H} layout="vertical" margin={marginOf(f, 1, 1)}>
      <XAxis
        {...bottomAxisBase}
        domain={[0, 50]}
        ticks={gamTicks}
        tick={makeTick(33, (v) => (v % 10 === 0 ? String(v) : null))}
      />
      {depthAxis()}
      {gridParts('g')}
      <Line {...lineProps} data={rows(gamma)} dataKey="v" stroke="#000000" strokeWidth={3.5} />
      {borderParts('g', 0, 50, '#000')}
    </ComposedChart>
  );
}

function WaterPanel() {
  const f = frames.water;
  return (
    <ComposedChart width={PAGE_W} height={PAGE_H} layout="vertical" margin={marginOf(f, 0, 0)}>
      <XAxis type="number" domain={[0, 1]} hide height={0} allowDataOverflow />
      <YAxis type="number" dataKey="d" domain={[0, 60]} hide width={0} allowDataOverflow />
      <ReferenceLine y={waterLevel} stroke="#0000ff" strokeWidth={4} ifOverflow="visible" zIndex={1000} />
    </ComposedChart>
  );
}

function Annotations() {
  const t = { fontFamily: SERIF, fill: '#000' };
  return (
    <svg width={PAGE_W} height={PAGE_H} style={{ ...abs, pointerEvents: 'none' }}>
      {/* titles */}
      <text {...t} x={205} y={53} fontSize={31} textAnchor="middle">Flowlog, data</text>
      <text {...t} x={600} y={37} fontSize={31} textAnchor="middle" fill="#0000ff">Tolket indstrømning</text>
      <text {...t} x={600} y={73} fontSize={31} textAnchor="middle" fill="#ff0000">Relativ strømning</text>
      <text {...t} x={996} y={35} fontSize={31} textAnchor="middle">Temperaturlog</text>
      <text {...t} x={996} y={72} fontSize={31} textAnchor="middle" fill="#0000ff">Fluid resistivitetslog</text>
      <text {...t} x={1404} y={52} fontSize={31} textAnchor="middle">Induktionslog</text>
      <text {...t} x={1816} y={51} fontSize={31} textAnchor="middle">Caliperlog</text>
      <text {...t} x={2209} y={52} fontSize={31} textAnchor="middle">Naturlig gammalog</text>

      {/* units */}
      <text {...t} x={206} y={2047} fontSize={24} textAnchor="middle">[cps]</text>
      <text {...t} x={607} y={2068} fontSize={24} textAnchor="middle">[%]</text>
      <text {...t} x={1004} y={2052} fontSize={24} textAnchor="middle">°C</text>
      <text {...t} x={1002} y={2080} fontSize={24} textAnchor="middle" fill="#0000ff">[ohmm]</text>
      <text {...t} x={1406} y={2076} fontSize={24} textAnchor="middle">[ohmm]</text>
      <text {...t} x={1822} y={2041} fontSize={24} textAnchor="middle">[cm]</text>
      <text {...t} x={2217} y={2046} fontSize={24} textAnchor="middle">[cps]</text>

      {/* vertical axis titles */}
      <text {...t} x={403} y={182} fontSize={30} textAnchor="middle" dy="0.35em" transform="rotate(-90 403 182)">m.u. reference</text>
      <text {...t} x={1204} y={157} fontSize={30} textAnchor="middle" dy="0.35em" transform="rotate(-90 1204 157)">m.u.reference</text>
      <text {...t} x={2012} y={157} fontSize={30} textAnchor="middle" dy="0.35em" transform="rotate(-90 2012 157)">m.u.reference</text>

      {/* annotations */}
      <text {...t} x={489} y={402} fontSize={26} dy="0.35em" transform="rotate(90 489 402)">Forerør 150 mm</text>
      <text {...t} x={88} y={1013} fontSize={27} dy="0.35em" transform="rotate(90 88 1013)">Uden pumpning</text>
      <text {...t} x={293} y={1023} fontSize={27} dy="0.35em" transform="rotate(90 293 1023)">Med pumpning</text>
      <text {...t} x={110} y={995} fontSize={21}>Vandspejl</text>
      <text {...t} x={574} y={1094} fontSize={20}>Pumpe under flowlog</text>
      <text {...t} x={574} y={1117} fontSize={20}>
        30 m<tspan dy={-8} fontSize={13}>3</tspan>
        <tspan dy={8}>/t</tspan>
      </text>

      <line x1={0} x2={PAGE_W} y1={2090} y2={2090} stroke="#555" strokeWidth={2} />
    </svg>
  );
}

export default function App() {
  return (
    <div style={{ ...abs, width: PAGE_W, height: PAGE_H, background: '#fff', overflow: 'hidden' }}>
      <style>{`.inflow-blob, .inflow-blob * { clip-path: none !important; }`}</style>
      <div style={abs}><FlowPanel /></div>
      <div style={abs}><InflowPanel /></div>
      <div style={abs}><TempPanel /></div>
      <div style={abs}><IndPanel /></div>
      <div style={abs}><CalPanel /></div>
      <div style={abs}><GamPanel /></div>
      <div style={abs}><WaterPanel /></div>
      <Annotations />
    </div>
  );
}
